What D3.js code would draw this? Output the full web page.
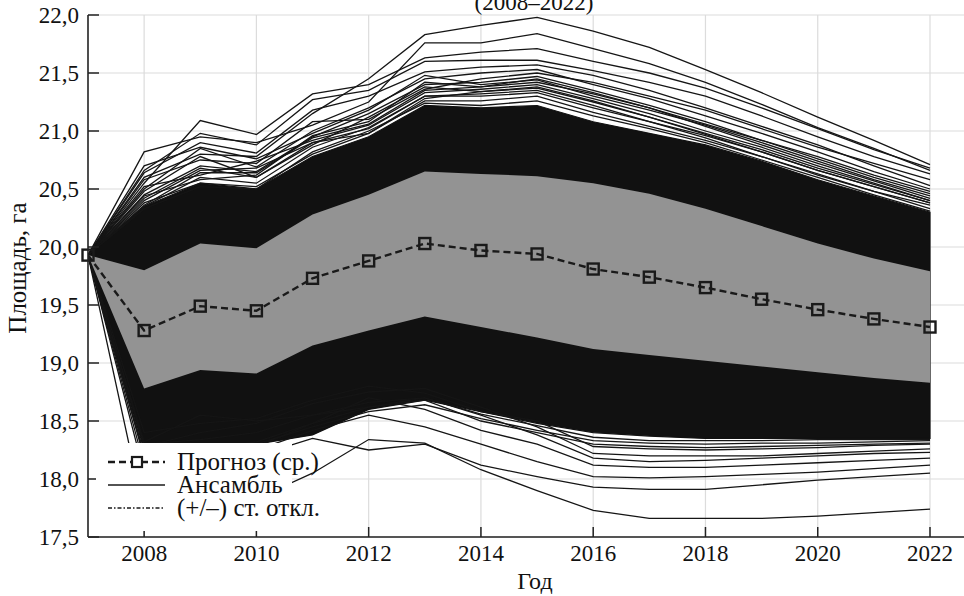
<!DOCTYPE html>
<html>
<head>
<meta charset="utf-8">
<script src="https://cdn.jsdelivr.net/npm/d3@7"></script>
<style>
  body { margin: 0; background: #fff; }
</style>
</head>
<body>
<div id="chart"></div>
<script>
const years = [2007, 2008, 2009, 2010, 2011, 2012, 2013, 2014, 2015, 2016, 2017, 2018, 2019, 2020, 2021, 2022];

// mean forecast
const meanValues = [19.93, 19.28, 19.49, 19.45, 19.73, 19.88, 20.03, 19.97, 19.94, 19.81, 19.74, 19.65, 19.55, 19.46, 19.38, 19.31];
// +/- std band
const stdUpper = [19.93, 19.80, 20.03, 19.99, 20.28, 20.45, 20.65, 20.63, 20.61, 20.55, 20.46, 20.33, 20.18, 20.03, 19.90, 19.79];
const stdLower = [19.93, 18.78, 18.94, 18.91, 19.15, 19.28, 19.40, 19.31, 19.22, 19.12, 19.07, 19.02, 18.97, 18.92, 18.87, 18.83];

// part of the ensemble where lines merge into solid black
const denseUpper = [19.93, 20.35, 20.55, 20.50, 20.78, 20.95, 21.22, 21.20, 21.22, 21.08, 20.98, 20.88, 20.74, 20.58, 20.44, 20.30];
const denseLower = [19.93, 18.25, 18.30, 18.30, 18.38, 18.60, 18.68, 18.58, 18.48, 18.40, 18.37, 18.35, 18.35, 18.35, 18.35, 18.35];

// individual ensemble members outside the dense core
const ensemble = [
  [19.93, 20.60, 20.80, 20.78, 21.15, 21.45, 21.83, 21.91, 21.98, 21.86, 21.72, 21.53, 21.33, 21.12, 20.92, 20.71],
  [19.93, 20.82, 20.95, 20.90, 21.05, 21.25, 21.76, 21.76, 21.84, 21.71, 21.58, 21.42, 21.23, 21.03, 20.85, 20.66],
  [19.93, 20.55, 21.09, 20.97, 21.32, 21.40, 21.63, 21.68, 21.71, 21.60, 21.50, 21.37, 21.20, 21.02, 20.84, 20.68],
  [19.93, 20.66, 20.98, 20.88, 21.27, 21.35, 21.60, 21.61, 21.61, 21.52, 21.42, 21.30, 21.13, 20.95, 20.78, 20.63],
  [19.93, 20.64, 20.90, 20.81, 21.18, 21.30, 21.51, 21.55, 21.57, 21.48, 21.35, 21.20, 21.04, 20.88, 20.70, 20.53],
  [19.93, 20.50, 20.85, 20.69, 21.00, 21.20, 21.45, 21.50, 21.53, 21.40, 21.28, 21.13, 20.98, 20.82, 20.65, 20.50],
  [19.93, 20.45, 20.70, 20.65, 20.95, 21.15, 21.40, 21.42, 21.47, 21.35, 21.22, 21.08, 20.92, 20.76, 20.60, 20.46],
  [19.93, 20.58, 20.75, 20.72, 21.08, 21.10, 21.36, 21.45, 21.50, 21.42, 21.30, 21.18, 21.02, 20.86, 20.72, 20.58],
  [19.93, 20.70, 20.86, 20.76, 20.98, 21.18, 21.48, 21.40, 21.44, 21.30, 21.18, 21.05, 20.90, 20.74, 20.58, 20.44],
  [19.93, 20.52, 20.62, 20.74, 20.92, 21.05, 21.33, 21.36, 21.40, 21.28, 21.15, 21.00, 20.86, 20.70, 20.55, 20.40],
  [19.93, 20.48, 20.78, 20.60, 20.88, 21.12, 21.38, 21.34, 21.37, 21.25, 21.12, 20.97, 20.82, 20.66, 20.52, 20.38],
  [19.93, 20.40, 20.66, 20.68, 20.90, 21.02, 21.30, 21.32, 21.35, 21.22, 21.08, 20.94, 20.78, 20.63, 20.48, 20.36],
  [19.93, 20.44, 20.58, 20.62, 20.96, 21.08, 21.42, 21.38, 21.42, 21.32, 21.20, 21.06, 20.92, 20.78, 20.62, 20.48],
  [19.93, 20.36, 20.64, 20.64, 20.94, 21.06, 21.35, 21.38, 21.45, 21.33, 21.20, 21.04, 20.88, 20.72, 20.57, 20.42],
  [19.93, 20.38, 20.55, 20.52, 20.80, 20.98, 21.26, 21.26, 21.30, 21.16, 21.04, 20.92, 20.78, 20.62, 20.48, 20.33],
  [19.93, 20.35, 20.60, 20.55, 20.86, 21.03, 21.30, 21.30, 21.33, 21.20, 21.08, 20.96, 20.82, 20.66, 20.52, 20.38],
  [19.93, 20.42, 20.68, 20.60, 20.90, 20.98, 21.28, 21.34, 21.38, 21.26, 21.12, 20.98, 20.84, 20.68, 20.54, 20.40],
  [19.93, 20.33, 20.52, 20.50, 20.82, 21.00, 21.24, 21.22, 21.26, 21.13, 21.02, 20.90, 20.75, 20.60, 20.45, 20.31],
  [19.93, 17.70, 17.75, 17.83, 18.05, 18.34, 18.31, 18.08, 17.90, 17.73, 17.66, 17.66, 17.66, 17.68, 17.71, 17.74],
  [19.93, 18.05, 18.15, 18.20, 18.35, 18.25, 18.30, 18.12, 18.02, 17.93, 17.91, 17.91, 17.95, 17.99, 18.02, 18.05],
  [19.93, 18.12, 18.20, 18.25, 18.42, 18.55, 18.45, 18.30, 18.15, 18.02, 18.01, 18.02, 18.04, 18.06, 18.09, 18.12],
  [19.93, 18.18, 18.26, 18.28, 18.48, 18.70, 18.60, 18.42, 18.30, 18.12, 18.10, 18.10, 18.12, 18.14, 18.16, 18.18],
  [19.93, 18.28, 18.40, 18.48, 18.65, 18.75, 18.78, 18.62, 18.45, 18.22, 18.20, 18.20, 18.20, 18.22, 18.24, 18.26],
  [19.93, 18.32, 18.55, 18.50, 18.55, 18.62, 18.70, 18.55, 18.38, 18.18, 18.15, 18.16, 18.18, 18.20, 18.22, 18.23],
  [19.93, 18.40, 18.48, 18.52, 18.68, 18.80, 18.74, 18.58, 18.50, 18.28, 18.26, 18.25, 18.26, 18.27, 18.29, 18.30],
  [19.93, 18.22, 18.28, 18.30, 18.45, 18.58, 18.64, 18.52, 18.42, 18.33, 18.31, 18.30, 18.31, 18.31, 18.32, 18.33],
  [19.93, 18.20, 18.25, 18.32, 18.48, 18.62, 18.68, 18.50, 18.40, 18.30, 18.28, 18.27, 18.28, 18.29, 18.30, 18.31],
  [19.93, 18.30, 18.34, 18.40, 18.55, 18.66, 18.70, 18.56, 18.46, 18.36, 18.33, 18.33, 18.33, 18.34, 18.34, 18.34]
];

const xTicks = [2008, 2010, 2012, 2014, 2016, 2018, 2020, 2022];
const yTicks = [17.5, 18.0, 18.5, 19.0, 19.5, 20.0, 20.5, 21.0, 21.5, 22.0];

const legendLabels = ["Прогноз (ср.)", "Ансамбль", "(+/\u2013) ст. откл."];

const width = 964;
const height = 596;
const plotLeft = 88;
const plotRight = 964;
const plotTop = 15;
const plotBottom = 537;
const serif = "'Liberation Serif', 'DejaVu Serif', 'Times New Roman', Times, serif";

const x = d3.scaleLinear().domain([2007, 2022]).range([plotLeft, 930]);
const y = d3.scaleLinear().domain([17.5, 22]).range([plotBottom, plotTop]);

const svg = d3.select("#chart").append("svg")
    .attr("width", width)
    .attr("height", height)
    .attr("font-family", serif)
    .style("display", "block");

svg.append("defs").append("clipPath")
    .attr("id", "plot-clip")
    .append("rect")
    .attr("x", plotLeft)
    .attr("y", plotTop)
    .attr("width", plotRight - plotLeft)
    .attr("height", plotBottom - plotTop);

// grid
svg.append("g")
    .selectAll("line")
    .data(yTicks)
    .enter().append("line")
    .attr("x1", plotLeft).attr("x2", plotRight)
    .attr("y1", d => y(d)).attr("y2", d => y(d))
    .attr("stroke", "#dcdcdc").attr("stroke-width", 1.2);

svg.append("g")
    .selectAll("line")
    .data(xTicks)
    .enter().append("line")
    .attr("x1", d => x(d)).attr("x2", d => x(d))
    .attr("y1", plotTop).attr("y2", plotBottom)
    .attr("stroke", "#dcdcdc").attr("stroke-width", 1.2);

const g = svg.append("g").attr("clip-path", "url(#plot-clip)");

const idx = d3.range(years.length);

// dense core of the ensemble
const denseArea = d3.area()
    .x(i => x(years[i]))
    .y0(i => y(denseLower[i]))
    .y1(i => y(denseUpper[i]));

g.append("path")
    .attr("d", denseArea(idx))
    .attr("fill", "#111")
    .attr("stroke", "#111")
    .attr("stroke-width", 1.2);

const line = d3.line()
    .x((d, i) => x(years[i]))
    .y(d => y(d));

g.selectAll(".member")
    .data(ensemble)
    .enter().append("path")
    .attr("class", "member")
    .attr("d", line)
    .attr("fill", "none")
    .attr("stroke", "#151515")
    .attr("stroke-width", 1.3);

// std band
const bandArea = d3.area()
    .x(i => x(years[i]))
    .y0(i => y(stdLower[i]))
    .y1(i => y(stdUpper[i]));

g.append("path")
    .attr("d", bandArea(idx))
    .attr("fill", "#939393");

// mean line
g.append("path")
    .attr("d", line(meanValues))
    .attr("fill", "none")
    .attr("stroke", "#1a1a1a")
    .attr("stroke-width", 2.4)
    .attr("stroke-dasharray", "7,4");

svg.append("g")
    .selectAll("rect")
    .data(meanValues)
    .enter().append("rect")
    .attr("x", (d, i) => x(years[i]) - 5.5)
    .attr("y", d => y(d) - 5.5)
    .attr("width", 11)
    .attr("height", 11)
    .attr("fill", "none")
    .attr("stroke", "#1a1a1a")
    .attr("stroke-width", 2.4);

// axes
svg.append("line")
    .attr("x1", plotLeft).attr("x2", plotLeft)
    .attr("y1", plotTop).attr("y2", plotBottom)
    .attr("stroke", "#222").attr("stroke-width", 1.6);
svg.append("line")
    .attr("x1", plotLeft).attr("x2", plotRight)
    .attr("y1", plotBottom).attr("y2", plotBottom)
    .attr("stroke", "#222").attr("stroke-width", 1.6);

svg.append("g").selectAll("line")
    .data(yTicks)
    .enter().append("line")
    .attr("x1", plotLeft).attr("x2", plotLeft + 11)
    .attr("y1", d => y(d)).attr("y2", d => y(d))
    .attr("stroke", "#222").attr("stroke-width", 1.5);

svg.append("g").selectAll("line")
    .data(xTicks)
    .enter().append("line")
    .attr("x1", d => x(d)).attr("x2", d => x(d))
    .attr("y1", plotBottom).attr("y2", plotBottom - 10)
    .attr("stroke", "#222").attr("stroke-width", 1.5);

svg.append("g").selectAll("text")
    .data(yTicks)
    .enter().append("text")
    .attr("x", 79)
    .attr("y", d => y(d) + 8)
    .attr("text-anchor", "end")
    .attr("font-size", 23)
    .attr("fill", "#111")
    .text(d => d.toFixed(1).replace(".", ","));

svg.append("g").selectAll("text")
    .data(xTicks)
    .enter().append("text")
    .attr("x", d => x(d))
    .attr("y", 561)
    .attr("text-anchor", "middle")
    .attr("font-size", 23)
    .attr("fill", "#111")
    .text(d => d);

svg.append("text")
    .attr("x", 535)
    .attr("y", 589)
    .attr("text-anchor", "middle")
    .attr("font-size", 24)
    .attr("fill", "#111")
    .text("Год");

svg.append("text")
    .attr("transform", "translate(26,268) rotate(-90)")
    .attr("text-anchor", "middle")
    .attr("font-size", 25)
    .attr("fill", "#111")
    .text("Площадь, га");

svg.append("text")
    .attr("x", 534)
    .attr("y", 10)
    .attr("text-anchor", "middle")
    .attr("font-size", 23)
    .attr("fill", "#111")
    .text("(2008\u20132022)");

// legend
const legend = svg.append("g");
legend.append("rect")
    .attr("x", 96).attr("y", 443)
    .attr("width", 196).attr("height", 88)
    .attr("fill", "#fff");

const rowY = [462, 485, 508];
const dashes = ["7,4", null, "4,2,1.5,2"];
const widths = [2.4, 1.6, 1.4];

legendLabels.forEach((label, i) => {
    legend.append("line")
        .attr("x1", 108).attr("x2", 165)
        .attr("y1", rowY[i]).attr("y2", rowY[i])
        .attr("stroke", "#1a1a1a")
        .attr("stroke-width", widths[i])
        .attr("stroke-dasharray", dashes[i]);
    if (i === 0) {
        legend.append("rect")
            .attr("x", 132).attr("y", rowY[i] - 5)
            .attr("width", 10).attr("height", 10)
            .attr("fill", "#fff")
            .attr("stroke", "#1a1a1a")
            .attr("stroke-width", 2.2);
    }
    legend.append("text")
        .attr("x", 177)
        .attr("y", rowY[i] + 8)
        .attr("font-size", 25)
        .attr("fill", "#111")
        .text(label);
});
</script>
</body>
</html>
